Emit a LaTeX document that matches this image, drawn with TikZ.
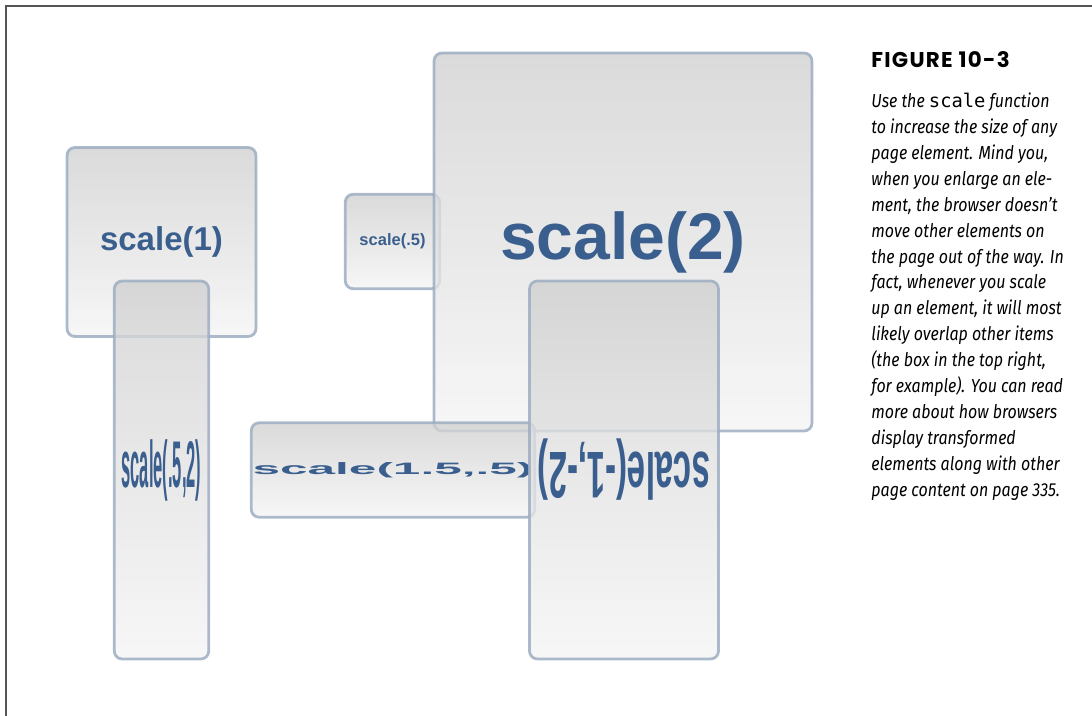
\documentclass[tikz,border=0pt]{standalone}
\usepackage{xcolor}
\usepackage{fontspec}
\usepackage{tikz}
\usetikzlibrary{positioning}
\setmainfont{Liberation Sans}
\setmonofont{DejaVu Sans Mono}
\newfontfamily\headfont[LetterSpace=6]{Poppins}
\newfontfamily\capfont[FakeStretch=0.85]{Fira Sans}
\definecolor{scaleblue}{HTML}{3A5F8E}
\definecolor{boxedge}{HTML}{9DAEC2}
\definecolor{boxtop}{HTML}{D0D0D0}
\definecolor{boxbot}{HTML}{F4F4F4}
\definecolor{framegray}{HTML}{555555}
\tikzset{
  scalebox/.style={draw=boxedge, line width=1.4pt, rounded corners=4pt, top color=boxtop, bottom color=boxbot, fill opacity=0.78, draw opacity=0.85, text opacity=1, text=scaleblue, minimum size=94.5pt, inner sep=0pt, transform shape, font=\fontsize{16.5}{18}\selectfont\bfseries},
  figframe/.style={draw=framegray, line width=1pt},
  caphead/.style={inner sep=0pt, anchor=base west, font=\headfont\bfseries\fontsize{10.7}{12}\selectfont},
  captext/.style={inner sep=0pt, align=left, font=\capfont\itshape\fontsize{9.4}{12.95}\selectfont}
}

\begin{document}
\begin{tikzpicture}[x=0.5pt, y=-0.5pt]
  \useasboundingbox (0,0) rectangle (1092,716);
  \draw[figframe] (6,716) -- (6,6) -- (1092,6);

  % top row
  \begin{scope}[shift={(161.5,242)}]
    \node[scalebox] (one) {scale(1)};
  \end{scope}
  \begin{scope}[shift={(392.5,241.5)}]
    \node[scalebox, scale=.5] (half) {scale(.5)};
  \end{scope}
  \begin{scope}[shift={(623,242)}]
    \node[scalebox, scale=2] (two) {scale(2)};
  \end{scope}

  % bottom row
  \begin{scope}[shift={(161.5,470)}]
    \node[scalebox, xscale=.5, yscale=2] (tall) {scale(.5,2)};
  \end{scope}
  \begin{scope}[shift={(393,470)}]
    \node[scalebox, xscale=1.5, yscale=.5] (wide) {scale(1.5,.5)};
  \end{scope}
  \begin{scope}[shift={(624,470)}]
    \node[scalebox, xscale=-1, yscale=-2] (flip) {scale(-1,-2)};
  \end{scope}

  % caption
  \node[caphead] (fighead) at (871,68) {FIGURE 10-3};
  \node[captext, below=12pt of fighead.south west, anchor=north west] (figtext) {Use the {\upshape\ttfamily scale} function\\
    to increase the size of any\\
    page element. Mind you,\\
    when you enlarge an ele-\\
    ment, the browser doesn’t\\
    move other elements on\\
    the page out of the way. In\\
    fact, whenever you scale\\
    up an element, it will most\\
    likely overlap other items\\
    (the box in the top right,\\
    for example). You can read\\
    more about how browsers\\
    display transformed\\
    elements along with other\\
    page content on page 335.};
\end{tikzpicture}
\end{document}
